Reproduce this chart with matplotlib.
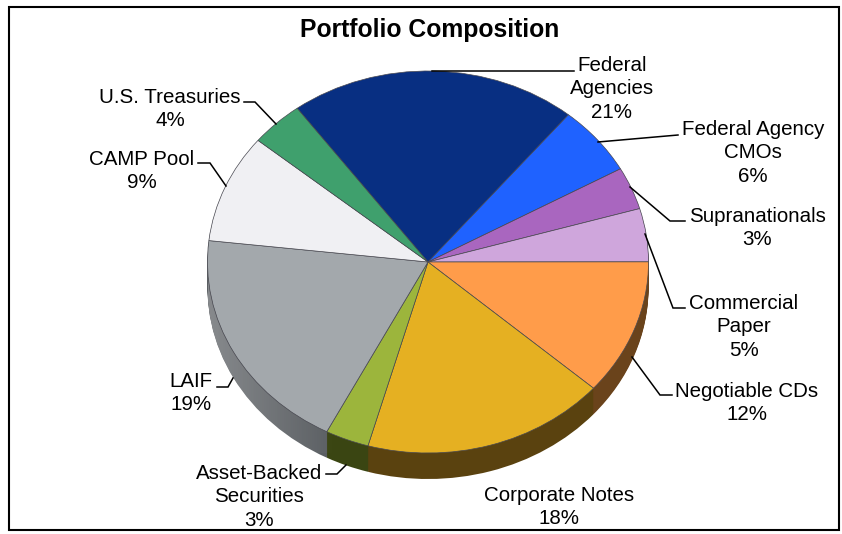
import numpy as np
import matplotlib
matplotlib.use("Agg")
import matplotlib.pyplot as plt
from matplotlib.patches import Polygon, Rectangle

plt.rcParams['font.family'] = ['Liberation Sans', 'DejaVu Sans']

# slice sizes, labels carry the printed percent
names = ["Federal\nAgencies", "Federal Agency\nCMOs", "Supranationals", "Commercial\nPaper",
         "Negotiable CDs", "Corporate Notes", "Asset-Backed\nSecurities", "LAIF", "CAMP Pool",
         "U.S. Treasuries"]
shares = [21.1, 5.9, 3.6, 4.5, 11.5, 17.9, 3.2, 19.2, 9.2, 3.9]
printed = [21, 6, 3, 5, 12, 18, 3, 19, 9, 4]
top_colors = ["#082f82", "#1f62ff", "#a966bf", "#cfa6dc", "#ff9c4a",
              "#e5b022", "#9cb53c", "#a3a8ac", "#f0f0f3", "#3fa06d"]
wall_colors = ["#04183f", "#0f317f", "#553360", "#68536e", "#6a431b",
               "#5a420f", "#3a4512", "#5b5f63", "#78787a", "#205036"]

W, H = 842, 534
CX, CY, RX, RY = 428, 262, 220.5, 191
DEPTH = 26
START = 126.4

# label centre in pixels
label_pos = [(612, 89), (753, 153), (757, 228), (744, 327), (747, 403),
             (559, 507), (259, 497), (191, 393), (142, 171), (170, 109)]
# leader lines in pixels
leaders = [
    [(432, 71), (574, 71)],
    [(598, 142), (678, 135)],
    [(630, 187), (670, 221), (685, 221)],
    [(645, 234), (673, 308), (685, 308)],
    [(632, 357), (660, 395), (672, 395)],
    [],
    [(346, 465), (337, 474), (326, 474)],
    [(233, 378), (228, 387), (217, 387)],
    [(226, 186), (210, 163), (198, 163)],
    [(276, 124), (255, 102), (244, 102)],
]

fig = plt.figure(figsize=(W / 100, H / 100), dpi=100, facecolor="white")

bg = fig.add_axes([0, 0, 1, 1])
bg.set_xlim(0, W)
bg.set_ylim(H, 0)
bg.axis("off")
bg.add_patch(Rectangle((8.5, 7), 830, 523, fill=False, ec="black", lw=1.5))

pie_ax = fig.add_axes([(CX - RX) / W, 1 - (CY + RY) / H, 2 * RX / W, 2 * RY / H])
pie_ax.patch.set_alpha(0)


def draw_pie(colors, shift, **kw):
    wedges, _ = pie_ax.pie(shares, colors=colors, startangle=START, counterclock=False,
                           center=(0, -shift / RY), radius=1, **kw)
    for w in wedges:
        w.set_clip_on(False)
    return wedges


# side wall built up from shifted copies
for d in range(DEPTH, 0, -1):
    draw_pie(wall_colors, d, wedgeprops=dict(lw=0, zorder=1))

# lighter at the far left of the wall
t = np.linspace(0, np.pi, 200)
xs = np.concatenate([np.cos(t), np.cos(t[::-1])])
ys = np.concatenate([-np.sin(t) - DEPTH / RY, -np.sin(t[::-1])])
grad = np.zeros((2, 256, 4))
grad[..., :3] = 1
grad[..., 3] = np.linspace(0.28, 0, 256)
im = pie_ax.imshow(grad, extent=(-1.02, -0.42, -1.3, 0.2), aspect="auto", zorder=2)
clip = Polygon(np.column_stack([xs, ys]), transform=pie_ax.transData, fc="none", ec="none")
pie_ax.add_patch(clip)
im.set_clip_path(clip)

draw_pie(top_colors, 0, wedgeprops=dict(lw=0.5, edgecolor="#4a4a52", zorder=3))

pie_ax.set_aspect("auto")
pie_ax.set_xlim(-1, 1)
pie_ax.set_ylim(-1, 1)
pie_ax.axis("off")

fs = 14.8
for name, pct, pos in zip(names, printed, label_pos):
    bg.text(pos[0], pos[1], f"{name}\n{pct}%", ha="center", va="center", fontsize=fs,
            color="black", linespacing=1.28, zorder=5)

overlay = fig.add_axes([0, 0, 1, 1])
overlay.set_xlim(0, W)
overlay.set_ylim(H, 0)
overlay.axis("off")
for pts in leaders:
    if pts:
        overlay.plot([p[0] for p in pts], [p[1] for p in pts], color="black", lw=1.1,
                     solid_joinstyle="miter")
overlay.text(430, 30, "Portfolio Composition", ha="center", va="center", fontsize=17.8,
             fontweight="bold", color="black")

plt.savefig("out.png", dpi=100, facecolor="white")
